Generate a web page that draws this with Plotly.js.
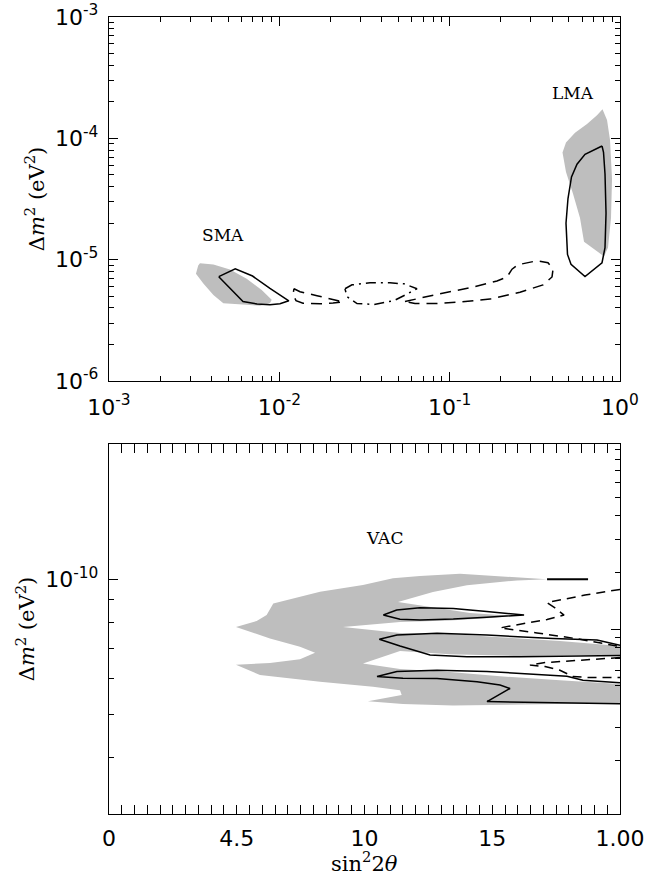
<!DOCTYPE html>
<html>
<head>
<meta charset="utf-8">
<script src="https://cdn.plot.ly/plotly-3.0.1.min.js"></script>
<style>html,body{margin:0;padding:0;background:#fff;}#chart{width:652px;height:875px;}</style>
</head>
<body>
<div id="chart"></div>
<script>
// ---------- top panel (MSW solutions) ----------
const smaShadeX = [0.00342, 0.0041, 0.00513, 0.00643, 0.00788, 0.00902, 0.00881, 0.0077, 0.00643, 0.00469, 0.0041, 0.00358, 0.00324, 0.00334, 0.00342];
const smaShadeY = [9.34e-6, 9.12e-6, 8.3e-6, 6.97e-6, 5.62e-6, 4.67e-6, 4.38e-6, 4.17e-6, 4.25e-6, 4.38e-6, 5.12e-6, 6.35e-6, 7.66e-6, 8.95e-6, 9.34e-6];
const smaLineX = [0.00441, 0.00551, 0.00696, 0.00881, 0.01137, 0.01009, 0.00881, 0.0074, 0.00612, 0.00441];
const smaLineY = [7.24e-6, 8.4e-6, 7.33e-6, 5.79e-6, 4.58e-6, 4.33e-6, 4.25e-6, 4.31e-6, 4.52e-6, 7.24e-6];
const leftDashX = [0.01219, 0.01323, 0.01664, 0.02066, 0.02365, 0.02066, 0.01733, 0.01377, 0.01253, 0.01203, 0.01219];
const leftDashY = [5.76e-6, 5.44e-6, 5.05e-6, 4.69e-6, 4.48e-6, 4.39e-6, 4.33e-6, 4.38e-6, 4.6e-6, 5.15e-6, 5.76e-6];
const dotDashX = [0.02429, 0.0267, 0.03406, 0.04463, 0.05394, 0.06429, 0.05466, 0.04713, 0.03596, 0.02858, 0.02496, 0.02429];
const dotDashY = [5.76e-6, 6.2e-6, 6.44e-6, 6.44e-6, 6.32e-6, 5.76e-6, 5.1e-6, 4.6e-6, 4.27e-6, 4.35e-6, 4.96e-6, 5.76e-6];
const rightDashX = [0.05466, 0.06697, 0.08776, 0.1316, 0.1896, 0.2171, 0.2323, 0.252, 0.3257, 0.3778, 0.4044, 0.399, 0.3532, 0.2588, 0.1725, 0.115, 0.08428, 0.06258, 0.05466];
const rightDashY = [4.52e-6, 4.82e-6, 5.24e-6, 5.86e-6, 6.68e-6, 7.2e-6, 8.35e-6, 9.08e-6, 9.79e-6, 9.43e-6, 8.35e-6, 7.2e-6, 6.2e-6, 5.39e-6, 4.73e-6, 4.48e-6, 4.35e-6, 4.35e-6, 4.52e-6];
const lmaShadeX = [0.7895, 0.8391, 0.8734, 0.8977, 0.8855, 0.8506, 0.8057, 0.7136, 0.6148, 0.5824, 0.5298, 0.4819, 0.4597, 0.4819, 0.5444, 0.6403, 0.7328, 0.7895];
const lmaShadeY = [1.738e-4, 1.416e-4, 9.75e-5, 4.63e-5, 2.2e-5, 1.258e-5, 1.064e-5, 1.212e-5, 1.407e-5, 2.2e-5, 3.5e-5, 5.28e-5, 7.66e-5, 9.22e-5, 1.111e-4, 1.314e-4, 1.553e-4, 1.738e-4];
const lmaLineX = [0.7842, 0.6232, 0.5593, 0.5191, 0.4951, 0.4819, 0.4918, 0.5157, 0.6232, 0.7842, 0.8166, 0.8279, 0.8166, 0.8003, 0.7842];
const lmaLineY = [8.64e-5, 7.38e-5, 6.12e-5, 4.81e-5, 3.19e-5, 2.0e-5, 1.104e-5, 9.17e-6, 7.26e-6, 9.43e-6, 1.258e-5, 2.41e-5, 5.08e-5, 7.66e-5, 8.64e-5];

const topTickVals = [0.001, 0.01, 0.1, 1];
const topTickText = ['10<sup>-3</sup>', '10<sup>-2</sup>', '10<sup>-1</sup>', '10<sup>0</sup>'];
const topYTickVals = [1e-6, 1e-5, 1e-4, 1e-3];
const topYTickText = ['10<sup>-6</sup>', '10<sup>-5</sup>', '10<sup>-4</sup>', '10<sup>-3</sup>'];

// ---------- bottom panel (vacuum solution) ----------
const vacShadeX = [3.429, 3.084, 2.748, 2.434, 2.223, 1.988, 1.652, 1.286, 1.234, 1.156, 0.994, 1.26, 1.495, 1.613, 1.495, 1.26, 0.994, 1.182, 1.652, 2.067, 2.278, 2.291, 2.027, 2.301, 2.693, 4.0, 4.0, 3.53, 3.061, 2.669, 2.278, 1.988, 2.278, 2.669, 3.217, 3.687, 4.0, 4.0, 3.53, 3.061, 2.669, 2.278, 1.832, 2.278, 2.669, 2.982, 3.155, 2.826, 2.536, 2.262, 2.536, 2.802, 3.194, 3.429];
const vacShadeY = [1.0e-10, 1.015e-10, 1.028e-10, 1.017e-10, 1.005e-10, 9.71e-11, 9.38e-11, 8.83e-11, 8.32e-11, 8.07e-11, 7.83e-11, 7.38e-11, 7.07e-11, 6.86e-11, 6.63e-11, 6.51e-11, 6.45e-11, 6.12e-11, 5.91e-11, 5.76e-11, 5.66e-11, 5.52e-11, 5.35e-11, 5.27e-11, 5.23e-11, 5.3e-11, 5.84e-11, 5.96e-11, 6.08e-11, 6.21e-11, 6.31e-11, 6.49e-11, 6.92e-11, 6.81e-11, 6.74e-11, 6.78e-11, 6.78e-11, 7.1e-11, 7.28e-11, 7.43e-11, 7.55e-11, 7.59e-11, 7.83e-11, 8.03e-11, 8.09e-11, 8.2e-11, 8.28e-11, 8.41e-11, 8.67e-11, 8.9e-11, 9.37e-11, 9.69e-11, 9.94e-11, 1.0e-10];
const vacLine0X = [3.429, 3.75];
const vacLine0Y = [1.0e-10, 1.0e-10];
const vacLine1X = [2.147, 2.252, 2.434, 2.695, 2.957, 3.249, 2.957, 2.695, 2.434, 2.278, 2.147];
const vacLine1Y = [8.32e-11, 8.54e-11, 8.64e-11, 8.61e-11, 8.47e-11, 8.32e-11, 8.23e-11, 8.15e-11, 8.11e-11, 8.14e-11, 8.32e-11];
const vacLine2X = [4.0, 3.82, 3.476, 2.959, 2.568, 2.254, 2.116, 2.278, 2.513, 2.802, 3.217, 4.0];
const vacLine2Y = [7.13e-11, 7.32e-11, 7.38e-11, 7.51e-11, 7.58e-11, 7.51e-11, 7.35e-11, 7.1e-11, 6.78e-11, 6.72e-11, 6.72e-11, 6.76e-11];
const vacLine3X = [4.0, 3.71, 3.585, 2.959, 2.568, 2.254, 2.098, 2.301, 2.568, 2.881, 3.061, 3.139, 2.959, 4.0];
const vacLine3Y = [5.88e-11, 5.96e-11, 6.08e-11, 6.23e-11, 6.27e-11, 6.23e-11, 6.07e-11, 6.02e-11, 6.01e-11, 5.91e-11, 5.81e-11, 5.71e-11, 5.34e-11, 5.28e-11];
const vacDash1X = [4.0, 3.726, 3.429, 3.491, 3.562, 3.429, 3.272, 3.061, 3.35, 3.648, 4.0];
const vacDash1Y = [9.49e-11, 9.22e-11, 8.87e-11, 8.63e-11, 8.32e-11, 8.13e-11, 7.99e-11, 7.79e-11, 7.59e-11, 7.38e-11, 7.08e-11];
const vacDash2X = [4.0, 3.648, 3.413, 3.295, 3.413, 3.53, 3.632, 3.765, 4.0];
const vacDash2Y = [6.69e-11, 6.6e-11, 6.52e-11, 6.44e-11, 6.39e-11, 6.27e-11, 6.07e-11, 6.04e-11, 6.04e-11];

const botTickVals = [0, 1, 2, 3, 4];
const botTickText = ['0', '4.5', '10', '15', '1.00'];
const botYTickVals = [1e-10];
const botYTickText = ['10<sup>-10</sup>'];

const GRAY = 'rgb(190,190,190)';
function shade(x, y, xa, ya) {
  return {x: x, y: y, xaxis: xa, yaxis: ya, mode: 'lines', fill: 'toself', fillcolor: GRAY,
          line: {width: 0, color: GRAY}, hoverinfo: 'skip', showlegend: false};
}
function line(x, y, xa, ya, dash, w) {
  return {x: x, y: y, xaxis: xa, yaxis: ya, mode: 'lines',
          line: {color: 'black', width: w || 1.5, dash: dash || 'solid'}, hoverinfo: 'skip', showlegend: false};
}

const traces = [
  shade(smaShadeX, smaShadeY, 'x', 'y'),
  shade(lmaShadeX, lmaShadeY, 'x', 'y'),
  line(smaLineX, smaLineY, 'x', 'y'),
  line(lmaLineX, lmaLineY, 'x', 'y'),
  line(leftDashX, leftDashY, 'x', 'y', '11px,7px'),
  line(rightDashX, rightDashY, 'x', 'y', '11px,7px'),
  line(dotDashX, dotDashY, 'x', 'y', '10px,5px,2px,5px'),
  shade(vacShadeX, vacShadeY, 'x2', 'y2'),
  line(vacLine0X, vacLine0Y, 'x2', 'y2', 'solid', 2),
  line(vacLine1X, vacLine1Y, 'x2', 'y2'),
  line(vacLine2X, vacLine2Y, 'x2', 'y2'),
  line(vacLine3X, vacLine3Y, 'x2', 'y2'),
  line(vacDash1X, vacDash1Y, 'x2', 'y2', '9px,6px'),
  line(vacDash2X, vacDash2Y, 'x2', 'y2', '9px,6px'),
  {x: [], y: [], xaxis: 'x2', yaxis: 'y3', mode: 'lines', showlegend: false}
];

const tickFont = {family: 'DejaVu Sans', size: 22, color: 'black'};
const titleFont = {family: 'DejaVu Serif', size: 21, color: 'black'};
const axBase = {showline: true, linecolor: 'black', linewidth: 1.3, ticks: 'inside', tickcolor: 'black',
  ticklen: 9, tickwidth: 1, showgrid: false, zeroline: false, tickfont: tickFont, fixedrange: true,
  ticklabeloverflow: 'allow'};

const layout = {
  width: 652, height: 875,
  margin: {l: 109, r: 32, t: 17, b: 61},
  paper_bgcolor: 'white', plot_bgcolor: 'white',
  showlegend: false,
  xaxis: Object.assign({}, axBase, {
    type: 'log', range: [-3.00001, 0.00001], domain: [0, 1], anchor: 'y', mirror: 'allticks',
    tickmode: 'array', tickvals: topTickVals, ticktext: topTickText, ticklabelstandoff: 6,
    minor: {ticks: 'inside', ticklen: 5, tickcolor: 'black', dtick: 'D1', showgrid: false}
  }),
  yaxis: Object.assign({}, axBase, {
    type: 'log', range: [-6.00001, -2.99999], domain: [0.5433, 1], anchor: 'x', mirror: 'allticks',
    tickmode: 'array', tickvals: topYTickVals, ticktext: topYTickText, ticklabelstandoff: 5,
    minor: {ticks: 'inside', ticklen: 5, tickcolor: 'black', dtick: 'D1', showgrid: false},
    title: {text: 'Δ<i>m</i><sup>2</sup> (eV<sup>2</sup>)', font: titleFont, standoff: 4}
  }),
  xaxis2: Object.assign({}, axBase, {
    type: 'linear', range: [0, 4], domain: [0, 1], anchor: 'y2', mirror: 'allticks',
    tickmode: 'array', tickvals: botTickVals, ticktext: botTickText, ticklabelstandoff: 4,
    minor: {ticks: 'inside', ticklen: 5, tickcolor: 'black', dtick: 0.1, showgrid: false}
  }),
  yaxis2: Object.assign({}, axBase, {
    type: 'log', range: [Math.log10(3e-11), Math.log10(2e-10)], domain: [0, 0.4642], anchor: 'x2', mirror: false,
    tickmode: 'array', tickvals: botYTickVals, ticktext: botYTickText, ticklabelstandoff: 5,
    minor: {ticks: 'inside', ticklen: 5, tickcolor: 'black', dtick: 'D1', showgrid: false},
    title: {text: 'Δ<i>m</i><sup>2</sup> (eV<sup>2</sup>)', font: titleFont, standoff: 4}
  }),
  yaxis3: Object.assign({}, axBase, {
    type: 'log', range: [-0.985, 0.985], overlaying: 'y2', side: 'right', anchor: 'x2',
    showticklabels: false, dtick: 1, mirror: false,
    minor: {ticks: 'inside', ticklen: 5, tickcolor: 'black', dtick: 'D1', showgrid: false}
  }),
  annotations: [
    {xref: 'x', yref: 'y', x: Math.log10(0.00467), y: Math.log10(1.6e-5), text: 'SMA', showarrow: false,
     font: {family: 'DejaVu Serif', size: 17, color: 'black'}},
    {xref: 'x', yref: 'y', x: Math.log10(0.53), y: Math.log10(2.38e-4), text: 'LMA', showarrow: false,
     font: {family: 'DejaVu Serif', size: 17, color: 'black'}},
    {xref: 'x2', yref: 'y2', x: 2.16, y: Math.log10(1.236e-10), text: 'VAC', showarrow: false,
     font: {family: 'DejaVu Serif', size: 17, color: 'black'}},
    {xref: 'paper', yref: 'paper', x: 0.5, y: -0.0605, xanchor: 'center', yanchor: 'middle',
     text: 'sin<sup>2</sup>2<i>θ</i>', showarrow: false, font: titleFont, borderpad: 0}
  ]
};

Plotly.newPlot('chart', traces, layout, {staticPlot: true, displayModeBar: false});
</script>
</body>
</html>
